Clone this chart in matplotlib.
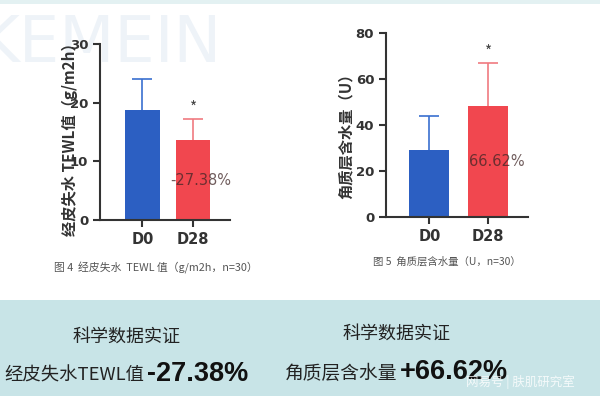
import matplotlib.pyplot as plt
from matplotlib.patches import Rectangle

plt.rcParams['font.family'] = ['Noto Sans CJK SC', 'DejaVu Sans']

# --- data ---
groups = ['D0', 'D28']
tewl_mean = [18.8, 13.6]
tewl_err = [5.2, 3.7]
tewl_change = '-27.38%'
water_mean = [29.0, 48.3]
water_err = [14.8, 18.7]
water_change = '66.62%'

blue = '#2c5fc2'
red = '#f1474f'
err_colors = ['#3a6fcf', '#f07a80']
axis_col = '#333333'

fig = plt.figure(figsize=(6, 3.96), dpi=100)
fig.patch.set_facecolor('white')

# background decorations
bg = fig.add_axes([0, 0, 1, 1], zorder=-5)
bg.set_xlim(0, 600)
bg.set_ylim(396, 0)
bg.axis('off')
bg.add_patch(Rectangle((0, 0), 600, 4, color='#e3f1f2', lw=0))
bg.add_patch(Rectangle((0, 300), 600, 96, color='#c8e4e7', lw=0))
bg.text(-22, 44, 'KEMEIN', fontsize=46, color='#eef3f8', va='center',
        ha='left', family='DejaVu Sans')


def bar_panel(rect, means, errs, ymax, step, change):
    ax = fig.add_axes(rect)
    x = range(len(groups))
    ax.bar(x, means, width=0.68, color=[blue, red], zorder=2)
    for i in x:
        _, caps, _ = ax.errorbar(i, means[i], yerr=[[0], [errs[i]]],
                                 color=err_colors[i], capsize=7,
                                 elinewidth=1.2, capthick=1.2, zorder=1)
        caps[0].set_visible(False)
    ax.text(1, means[1] + errs[1] + ymax * 0.06, '*', ha='center',
            va='center', fontsize=11, color='#444444')
    ax.text(1.15, means[1] * 0.5, change,
            ha='center', va='center', fontsize=10.5,
            color=(0.25, 0.15, 0.15, 0.75), family='DejaVu Sans', zorder=3)
    ax.set_ylim(0, ymax)
    ax.set_yticks(range(0, ymax + 1, step))
    ax.set_xticks(list(x))
    ax.set_xticklabels(groups)
    for s in ['top', 'right']:
        ax.spines[s].set_visible(False)
    for s in ['left', 'bottom']:
        ax.spines[s].set_linewidth(1.5)
        ax.spines[s].set_color(axis_col)
    ax.tick_params(width=1.5, length=5, color=axis_col, labelcolor='#333333')
    for lab in ax.get_yticklabels():
        lab.set_fontweight('bold')
        lab.set_fontsize(9.5)
        lab.set_family('DejaVu Sans')
    for lab in ax.get_xticklabels():
        lab.set_fontweight('bold')
        lab.set_fontsize(10.5)
        lab.set_family('DejaVu Sans')
    ax.set_facecolor('none')
    return ax


ax1 = bar_panel([100 / 600, 1 - 220 / 396, 130 / 600, 176 / 396],
                tewl_mean, tewl_err, 30, 10, tewl_change)
ax1.set_xlim(-0.84, 1.73)
ax2 = bar_panel([386 / 600, 1 - 217 / 396, 142 / 600, 184 / 396],
                water_mean, water_err, 80, 20, water_change)
ax2.set_xlim(-0.74, 1.68)

fig.text(70 / 600, 1 - 136 / 396, '经皮失水 TEWL值（g/m2h）', rotation=90,
         ha='center', va='center', fontsize=11, fontweight='bold', color='#333333')
fig.text(346 / 600, 1 - 132 / 396, '角质层含水量（U）', rotation=90,
         ha='center', va='center', fontsize=11, fontweight='bold', color='#333333')

# captions
fig.text(156 / 600, 1 - 268 / 396, '图 4  经皮失水  TEWL 值（g/m2h，n=30）',
         ha='center', va='center', fontsize=7.8, color='#555555')
fig.text(447 / 600, 1 - 262 / 396, '图 5  角质层含水量（U，n=30）',
         ha='center', va='center', fontsize=7.5, color='#555555')

# bottom summary
fig.text(127 / 600, 1 - 337 / 396, '科学数据实证', ha='center', va='center',
         fontsize=13, color='#222222')
fig.text(397 / 600, 1 - 334 / 396, '科学数据实证', ha='center', va='center',
         fontsize=13, color='#222222')
fig.text(4 / 600, 1 - 376 / 396, '经皮失水TEWL值', ha='left', va='center',
         fontsize=13.2, color='#222222')
fig.text(147 / 600, 1 - 374 / 396, '-27.38%', ha='left', va='center',
         fontsize=19.5, color='#111111', family=['Liberation Sans', 'DejaVu Sans'],
         fontweight='bold')
fig.text(285 / 600, 1 - 373 / 396, '角质层含水量', ha='left', va='center',
         fontsize=13.5, color='#222222')
fig.text(400 / 600, 1 - 372 / 396, '+66.62%', ha='left', va='center',
         fontsize=19.5, color='#111111', family=['Liberation Sans', 'DejaVu Sans'],
         fontweight='bold')
fig.text(466 / 600, 1 - 382 / 396, '网易号 | 肤肌研究室', ha='left', va='center',
         fontsize=9, color=(1, 1, 1, 0.8))

fig.savefig('out.png', dpi=100)
